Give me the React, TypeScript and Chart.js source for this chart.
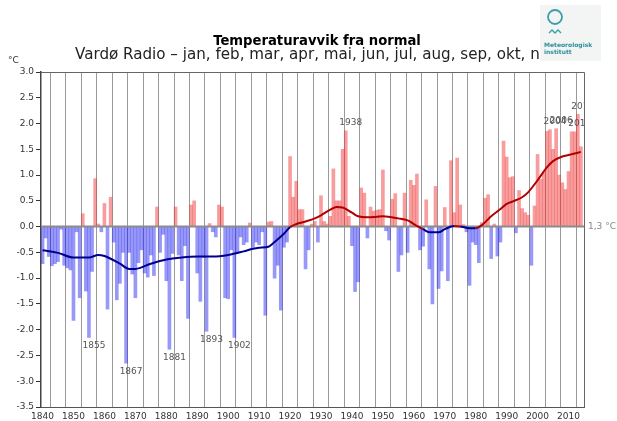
import React, { useEffect, useRef } from 'react';
import { Chart, registerables } from 'chart.js';

Chart.register(...registerables);

const FIRST_YEAR = 1840;

// Annual temperature deviation from normal (°C), 1840–2014
const anomalies: number[] = [
  // 1840-1849
  -0.72, -0.22, -0.58, -0.76, -0.72, -0.68, -0.05, -0.75, -0.8, -0.84,
  // 1850-1859
  -1.82, -0.1, -1.38, 0.25, -1.25, -2.15, -0.87, 0.93, 0.05, -0.1,
  // 1860-1869
  0.45, -1.6, 0.57, -0.3, -1.42, -1.1, -0.5, -2.65, -0.5, -0.92,
  // 1870-1879
  -1.38, -0.7, -0.45, -0.9, -0.98, -0.55, -0.95, 0.38, -0.5, -0.15,
  // 1880-1889
  -1.05, -2.38, -0.52, 0.38, -0.55, -1.05, -0.37, -1.78, 0.42, 0.5,
  // 1890-1899
  -0.9, -1.45, -0.6, -2.03, 0.06, -0.1, -0.2, 0.42, 0.38, -1.38,
  // 1900-1909
  -1.4, -0.45, -2.15, -0.5, -0.2, -0.35, -0.3, 0.07, -0.4, -0.3,
  // 1910-1919
  -0.35, -0.1, -1.72, 0.09, 0.1, -1.0, -0.75, -1.62, -0.4, -0.3,
  // 1920-1929
  1.36, 0.57, 0.88, 0.33, 0.33, -0.82, -0.45, 0.05, 0.1, -0.3,
  // 1930-1939
  0.6, 0.1, 0.05, 0.2, 1.12, 0.5, 0.5, 1.5, 1.86, 0.2,
  // 1940-1949
  -0.37, -1.26, -1.07, 0.75, 0.65, -0.22, 0.38, 0.3, 0.32, 0.33,
  // 1950-1959
  1.1, -0.08, -0.26, 0.53, 0.64, -0.87, -0.55, 0.65, -0.5, 0.9,
  // 1960-1969
  0.8, 1.02, -0.45, -0.38, 0.52, -0.82, -1.5, 0.78, -1.2, -0.86,
  // 1970-1979
  0.37, -1.05, 1.28, 0.27, 1.33, 0.42, 0.04, -0.1, -1.14, -0.3,
  // 1980-1989
  -0.35, -0.7, 0.08, 0.55, 0.62, -0.62, 0.05, -0.57, -0.3, 1.66,
  // 1990-1999
  1.35, 0.95, 0.97, -0.12, 0.7, 0.35, 0.27, 0.22, -0.75, 0.4,
  // 2000-2009
  1.4, 0.92, 1.05, 1.85, 1.88, 1.5, 1.9, 1.0, 0.85, 0.72,
  // 2010-2014
  1.07, 1.84, 1.84, 2.18, 1.55,
];

// Smoothed curve
const smoothYears: number[] = [
  1840, 1845, 1850, 1855, 1858, 1860, 1865, 1868, 1870, 1875, 1880, 1885, 1890,
  1895, 1900, 1905, 1908, 1910, 1913, 1915, 1918, 1920, 1922, 1925, 1928, 1930,
  1933, 1935, 1937, 1940, 1942, 1945, 1948, 1950, 1955, 1958, 1960, 1963, 1965,
  1968, 1970, 1973, 1975, 1978, 1980, 1982, 1985, 1988, 1990, 1992, 1995, 1997,
  2000, 2003, 2005, 2008, 2010, 2012, 2014,
];
const smoothValues: number[] = [
  -0.46, -0.51, -0.6, -0.6, -0.55, -0.57, -0.72, -0.82, -0.82, -0.72, -0.64, -0.6, -0.58,
  -0.58, -0.55, -0.48, -0.43, -0.41, -0.39, -0.3, -0.14, -0.01, 0.05, 0.1, 0.16, 0.22,
  0.33, 0.38, 0.37, 0.27, 0.2, 0.18, 0.19, 0.2, 0.16, 0.12, 0.05, -0.05, -0.11,
  -0.11, -0.05, 0.01, 0.0, -0.03, -0.03, 0.03, 0.2, 0.34, 0.44, 0.49, 0.57, 0.67,
  0.9, 1.15, 1.27, 1.36, 1.39, 1.42, 1.45,
];

// Years annotated on the chart (extremes)
const labelYears: number[] = [1855, 1867, 1881, 1893, 1902, 1938, 2004, 2006, 2012, 2013];

const TITLE = 'Temperaturavvik fra normal';
const SUBTITLE = 'Vardø Radio – jan, feb, mar, apr, mai, jun, jul, aug, sep, okt, nov, des';
const UNIT = '°C';
const NORMAL_LABEL = '1,3 °C';

const FONT = '"DejaVu Sans", Verdana, sans-serif';
const RED_BAR = 'rgba(240, 50, 50, 0.48)';
const BLUE_BAR = 'rgba(40, 40, 240, 0.48)';
const RED_LINE = '#b00000';
const BLUE_LINE = '#000090';

const barData = anomalies.map((v, i) => ({ x: FIRST_YEAR + i, y: v }));
const lineData = smoothYears.map((x, i) => ({ x, y: smoothValues[i] }));

function fitSize(ctx: CanvasRenderingContext2D, text: string, weight: string, target: number) {
  ctx.font = `${weight} 20px ${FONT}`;
  const w = ctx.measureText(text).width;
  return (20 * target) / w;
}

const overlayPlugin = {
  id: 'overlay',
  beforeDatasetDraw(chart: any, args: any) {
    if (args.index !== 1) return;
    const { ctx, chartArea: a, scales } = chart;
    const y0 = scales.y.getPixelForValue(0);
    ctx.save();
    ctx.strokeStyle = '#8c8c8c';
    ctx.lineWidth = 2;
    ctx.beginPath();
    ctx.moveTo(a.left, y0);
    ctx.lineTo(a.right, y0);
    ctx.stroke();
    ctx.restore();
  },
  afterDatasetsDraw(chart: any) {
    const { ctx, chartArea: a, scales } = chart;
    // annotations
    ctx.save();
    ctx.beginPath();
    ctx.rect(a.left, a.top, a.right - a.left, a.bottom - a.top);
    ctx.clip();
    ctx.font = `9px ${FONT}`;
    ctx.fillStyle = '#555';
    ctx.textAlign = 'center';
    ctx.textBaseline = 'middle';
    labelYears.forEach((yr) => {
      const v = anomalies[yr - FIRST_YEAR];
      const px = scales.x.getPixelForValue(yr) + 5;
      const py = scales.y.getPixelForValue(v) + (v >= 0 ? -8 : 8);
      ctx.fillText(String(yr), px, py);
    });
    ctx.restore();
    // frame
    ctx.save();
    ctx.strokeStyle = '#666';
    ctx.lineWidth = 1;
    ctx.beginPath();
    ctx.moveTo(a.left, a.top + 0.5);
    ctx.lineTo(a.right + 0.5, a.top + 0.5);
    ctx.lineTo(a.right + 0.5, a.bottom);
    ctx.stroke();
    ctx.restore();
  },
  afterDraw(chart: any) {
    const { ctx, chartArea: a, scales } = chart;
    ctx.save();
    // title
    const ts = fitSize(ctx, TITLE, 'bold', 208);
    ctx.font = `bold ${ts}px ${FONT}`;
    ctx.fillStyle = '#000';
    ctx.textAlign = 'center';
    ctx.textBaseline = 'alphabetic';
    ctx.fillText(TITLE, 317, 45);
    // subtitle (start at fixed x, end hidden behind logo)
    const prefix = 'Vardø Radio – jan, feb, mar, apr, mai, jun, jul, aug, sep, okt,';
    const ss = fitSize(ctx, prefix, 'normal', 451);
    ctx.font = `normal ${ss}px ${FONT}`;
    ctx.fillStyle = '#222';
    ctx.textAlign = 'left';
    ctx.fillText(SUBTITLE, 75, 59);
    // unit
    ctx.font = `9px ${FONT}`;
    ctx.fillStyle = '#333';
    ctx.fillText(UNIT, 8, 63);
    // normal label
    ctx.fillStyle = '#888';
    ctx.textBaseline = 'middle';
    ctx.fillText(NORMAL_LABEL, a.right + 4, scales.y.getPixelForValue(0));
    // logo
    ctx.fillStyle = '#f3f5f5';
    ctx.fillRect(540, 5, 61, 56);
    ctx.strokeStyle = '#3b9fa9';
    ctx.lineWidth = 1.8;
    ctx.beginPath();
    ctx.arc(555, 17, 7, 0, Math.PI * 2);
    ctx.stroke();
    ctx.lineWidth = 1.4;
    ctx.beginPath();
    ctx.moveTo(549, 33);
    ctx.lineTo(552, 30);
    ctx.lineTo(555, 33);
    ctx.lineTo(558, 30);
    ctx.lineTo(561, 33);
    ctx.stroke();
    ctx.fillStyle = '#2e8f9a';
    ctx.font = `bold 6px ${FONT}`;
    ctx.textBaseline = 'alphabetic';
    ctx.fillText('Meteorologisk', 544, 47);
    ctx.fillText('institutt', 544, 54);
    ctx.restore();
  },
};

export default function App() {
  const ref = useRef<HTMLCanvasElement | null>(null);
  useEffect(() => {
    if (!ref.current) return;
    const chart = new Chart(ref.current, {
      type: 'bar',
      data: {
        datasets: [
          {
            type: 'bar',
            data: barData as any,
            backgroundColor: (c: any) => ((c.raw && c.raw.y >= 0) ? RED_BAR : BLUE_BAR),
            barThickness: 3.0,
            borderWidth: 0,
            order: 1,
          } as any,
          {
            type: 'line',
            data: lineData as any,
            borderWidth: 2,
            pointRadius: 0,
            tension: 0.4,
            cubicInterpolationMode: 'monotone',
            borderColor: RED_LINE,
            segment: {
              borderColor: (c: any) => ((c.p0.parsed.y + c.p1.parsed.y) / 2 >= 0 ? RED_LINE : BLUE_LINE),
            },
            order: 0,
          } as any,
        ],
      },
      options: {
        responsive: false,
        animation: false,
        events: [],
        layout: { padding: { left: 0, right: 33, top: 72, bottom: 0 } },
        plugins: { legend: { display: false }, tooltip: { enabled: false }, title: { display: false } },
        scales: {
          x: {
            type: 'linear',
            min: 1839.5,
            max: 2015,
            offset: false,
            afterFit: (s: any) => { s.height = 14; },
            grid: { color: '#9a9a9a', lineWidth: 1, drawTicks: false },
            border: { display: true, color: '#555', width: 1 },
            ticks: {
              includeBounds: false,
              stepSize: 5,
              autoSkip: false,
              maxRotation: 0,
              padding: 4,
              color: '#333',
              font: { family: 'DejaVu Sans', size: 9 },
              callback: (v: any) => (Number(v) % 10 === 0 ? String(v) : ''),
            },
          },
          y: {
            min: -3.5,
            max: 3.0,
            afterFit: (s: any) => { s.width = 41; },
            grid: { drawOnChartArea: false, drawTicks: true, tickLength: 5, color: '#333' },
            border: { display: true, color: '#444', width: 1.5 },
            ticks: {
              stepSize: 0.5,
              padding: 2,
              color: '#333',
              font: { family: 'DejaVu Sans', size: 9 },
              callback: (v: any) => Number(v).toFixed(1),
            },
          },
        },
      },
      plugins: [overlayPlugin],
    } as any);
    return () => chart.destroy();
  }, []);
  return (
    <div style={{ position: 'fixed', left: 0, top: 0, width: 617, height: 421, background: '#fff' }}>
      <canvas ref={ref} width={617} height={421} style={{ width: 617, height: 421, display: 'block' }} />
    </div>
  );
}
